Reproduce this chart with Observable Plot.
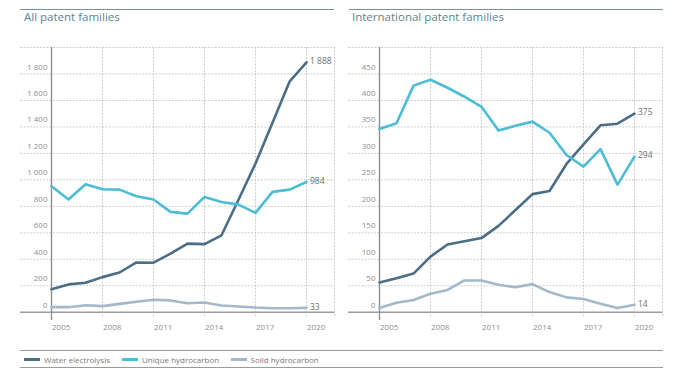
<!DOCTYPE html>
<html>
<head>
<meta charset="utf-8">
<script src="https://cdn.jsdelivr.net/npm/d3@7"></script>
<script src="https://cdn.jsdelivr.net/npm/@observablehq/plot@0.6"></script>
<style>
  html, body { margin: 0; padding: 0; background: #fff; }
  #root { position: relative; width: 673px; height: 374px; font-family: "Open Sans", sans-serif; overflow: hidden; }
  .rule { position: absolute; height: 1.5px; background: #7d8e98; }
  .title { position: absolute; font-size: 11.5px; line-height: 11.5px; color: #5d8397; white-space: nowrap; }
  .panel { position: absolute; top: 40px; }
  .lrule { position: absolute; left: 20px; width: 643px; height: 1.3px; background: #9a9a9a; }
  .legend { position: absolute; left: 0; top: 353px; height: 13px; font-size: 8px; color: #7a7a7a; }
  .item { position: absolute; top: 0; height: 13px; display: flex; align-items: center; white-space: nowrap; }
  .sw { display: inline-block; width: 16px; height: 2.6px; margin-right: 4px; }
</style>
</head>
<body>
<div id="root">
  <div class="rule" style="left:20px;top:8.5px;width:314px"></div>
  <div class="rule" style="left:349px;top:8.5px;width:314px"></div>
  <div class="title" style="left:24px;top:11px">All patent families</div>
  <div class="title" style="left:352px;top:11px">International patent families</div>
  <div class="panel" id="left" style="left:0px"></div>
  <div class="panel" id="right" style="left:328px"></div>
  <div class="lrule" style="top:350px"></div>
  <div class="lrule" style="top:366.5px"></div>
  <div class="legend" id="legend"></div>
</div>
<script>
const years = [2005,2006,2007,2008,2009,2010,2011,2012,2013,2014,2015,2016,2017,2018,2019,2020];
const seriesNames = ["Water electrolysis", "Unique hydrocarbon", "Solid hydrocarbon"];
const seriesColors = ["#4b6e86", "#4bbdd4", "#a3b9ca"];

// All patent families
const allWater  = [174,210,222,265,300,376,374,442,518,514,581,850,1124,1432,1742,1888];
const allUnique = [952,851,967,929,926,876,851,758,745,871,833,813,750,909,926,984];
const allSolid  = [38,38,53,46,63,79,94,89,68,73,51,43,35,30,30,33];

// International patent families
const intWater  = [56,64,73,105,128,134,140,163,193,223,229,280,317,353,356,375];
const intUnique = [346,357,428,439,424,407,388,343,352,360,339,297,275,308,241,294];
const intSolid  = [8,18,23,35,42,60,60,52,47,53,38,28,25,16,8,14];

const yearTicks = [2005,2008,2011,2014,2017,2020];
const allYTicks = [0,200,400,600,800,1000,1200,1400,1600,1800];
const intYTicks = [0,50,100,150,200,250,300,350,400,450];
const allYMax = 2000;
const intYMax = 500;

function fmt(v) { return d3.format(",")(v).replace(/,/g, " "); }

function panel(el, seriesArrays, yTicks, yMax) {
  const W = 337, H = 295, mL = 20, mR = 3, mT = 7, mB = 23.3;
  const pxPerYear = 17, axisX = 51;
  const xmin = years[0] - (axisX - mL) / pxPerYear;
  const xmax = years[0] + (W - mR - axisX) / pxPerYear;
  const below = 6 * yMax / (H - mT - mB);
  const rows = [];
  seriesArrays.forEach((arr, i) => arr.forEach((v, j) => rows.push({series: seriesNames[i], year: years[j], value: v})));
  const last = seriesArrays.map((arr, i) => ({series: seriesNames[i], year: years[years.length - 1], value: arr[arr.length - 1]}));
  const grid = {stroke: "#c2c2c2", strokeDasharray: "2,1.3", strokeWidth: 0.8};
  const chart = Plot.plot({
    width: W, height: H,
    marginLeft: mL, marginRight: mR, marginTop: mT, marginBottom: mB,
    x: {domain: [xmin, xmax], axis: null},
    y: {domain: [0, yMax], axis: null},
    color: {domain: seriesNames, range: seriesColors},
    style: {fontFamily: "Open Sans, sans-serif", fontSize: "8px", background: "transparent"},
    marks: [
      Plot.ruleY(yTicks.concat([yMax]).filter(d => d > 0), grid),
      Plot.ruleX(yearTicks.concat([xmax]), {...grid, y1: yMax, y2: -below}),
      Plot.ruleY([0], {stroke: "#9c9c9c", strokeWidth: 1.5}),
      Plot.ruleX([years[0]], {y1: yMax, y2: -below * 1.4, stroke: "#8a8f94", strokeWidth: 1.4}),
      Plot.text(yTicks, {x: years[0], y: d => d, text: d => fmt(d), textAnchor: "end", dx: -4, dy: -7, fill: "#8e8e8e"}),
      Plot.text(yearTicks, {x: d => d, y: 0, text: d => String(d), textAnchor: "start", dx: 0.5, dy: 15.5, fill: "#8e8e8e"}),
      Plot.line(rows, {x: "year", y: "value", z: "series", stroke: "series", strokeWidth: 2.6, strokeLinejoin: "round"}),
      Plot.text(last, {x: "year", y: "value", text: d => fmt(d.value), textAnchor: "start", dx: 3.5, dy: -1, fill: "#6e6e6e", fontSize: 8.5})
    ]
  });
  document.getElementById(el).appendChild(chart);
}

panel("left", [allWater, allUnique, allSolid], allYTicks, allYMax);
panel("right", [intWater, intUnique, intSolid], intYTicks, intYMax);

// legend
const legendX = [24, 122, 230.5];
const legend = document.getElementById("legend");
seriesNames.forEach((name, i) => {
  const it = document.createElement("div");
  it.className = "item";
  it.style.left = legendX[i] + "px";
  const sw = document.createElement("span");
  sw.className = "sw";
  sw.style.background = seriesColors[i];
  it.appendChild(sw);
  it.appendChild(document.createTextNode(name));
  legend.appendChild(it);
});
</script>
</body>
</html>
